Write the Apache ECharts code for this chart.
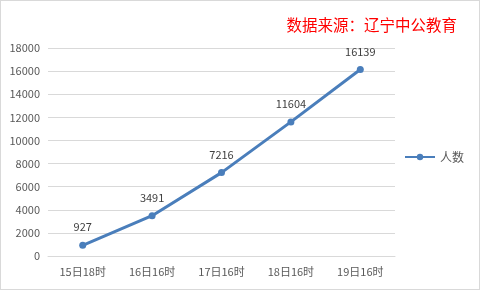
<!DOCTYPE html>
<html><head><meta charset="utf-8">
<script src="https://cdn.jsdelivr.net/npm/echarts@6/dist/echarts.min.js"></script>
<style>html,body{margin:0;padding:0;background:#fff}#c{width:478px;height:288px;border:1px solid #d9d9d9;}</style>
</head><body><div id="c"></div>
<script>
const categories = ['15日18时','16日16时','17日16时','18日16时','19日16时'];
const values = [927, 3491, 7216, 11604, 16139];
const yTicks = {min:0, max:18000, interval:2000};
const seriesName = '人数';
const titleText = '数据来源：辽宁中公教育';
const chart = echarts.init(document.getElementById('c'));
const font = '"Microsoft YaHei","Noto Sans CJK SC",sans-serif';
chart.setOption({
  animation:false,
  title:{text:titleText,right:17,top:11,textStyle:{color:'#ff0000',fontSize:15.5,fontWeight:'normal',fontFamily:font}},
  grid:{left:47,right:84,top:47,bottom:33,containLabel:false},
  legend:{data:[{name:seriesName}],right:10,top:145,orient:'vertical',itemWidth:30,itemHeight:8,itemGap:4,
    textStyle:{color:'#595959',fontSize:12,fontFamily:font}},
  xAxis:{type:'category',data:categories,boundaryGap:true,
    axisLine:{lineStyle:{color:'#d9d9d9'}},axisTick:{show:false},
    axisLabel:{color:'#595959',fontSize:11,fontFamily:font,margin:10}},
  yAxis:{type:'value',min:yTicks.min,max:yTicks.max,interval:yTicks.interval,
    axisLine:{show:false},axisTick:{show:false},
    splitLine:{lineStyle:{color:'#d9d9d9'}},
    axisLabel:{color:'#595959',fontSize:11,fontFamily:font,margin:8,formatter:v=>String(v)}},
  series:[{name:seriesName,type:'line',data:values,symbol:'circle',symbolSize:7,
    lineStyle:{color:'#4a7ebb',width:3},itemStyle:{color:'#4a7ebb'},
    label:{show:true,position:'top',distance:9,color:'#404040',fontSize:11,fontFamily:font}}]
});
</script></body></html>
